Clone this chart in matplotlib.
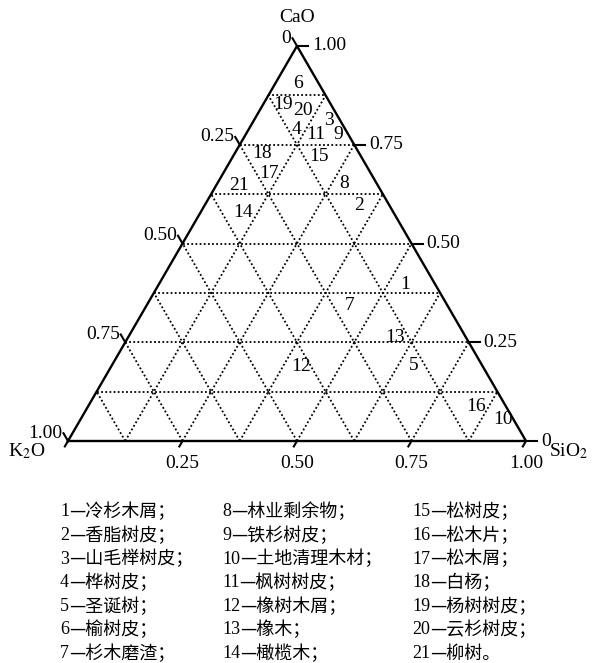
import numpy as np
import matplotlib
matplotlib.use('Agg')
import matplotlib.pyplot as plt
from matplotlib.offsetbox import TextArea, HPacker, AnnotationBbox

plt.rcParams['font.family'] = ['Liberation Serif', 'Noto Sans CJK SC']
plt.rcParams['mathtext.fontset'] = 'stix'

# sample numbers and their oxide fractions (K2O, CaO, SiO2)
labels = ['1', '2', '3', '4', '5', '6', '7', '8', '9', '10', '11',
          '12', '13', '14', '15', '16', '17', '18', '19', '20', '21']
cao = [0.395, 0.595, 0.811, 0.789, 0.190, 0.906, 0.344, 0.652, 0.775, 0.055, 0.775,
       0.188, 0.263, 0.578, 0.720, 0.087, 0.676, 0.727, 0.851, 0.836, 0.646]
sio2 = [0.539, 0.337, 0.165, 0.104, 0.659, 0.050, 0.442, 0.277, 0.202, 0.923, 0.154,
        0.416, 0.583, 0.094, 0.187, 0.847, 0.101, 0.060, 0.045, 0.096, 0.050]
k2o = [1 - c - s for c, s in zip(cao, sio2)]

tick_vals = [0.25, 0.50, 0.75]
grid_vals = np.arange(1, 8) / 8

names = ['冷杉木屑；', '香脂树皮；', '山毛榉树皮；', '桦树皮；', '圣诞树；', '榆树皮；', '杉木磨渣；',
         '林业剩余物；', '铁杉树皮；', '土地清理木材；', '枫树树皮；', '橡树木屑；', '橡木；', '橄榄木；',
         '松树皮；', '松木片；', '松木屑；', '白杨；', '杨树树皮；', '云杉树皮；', '柳树。']


def tern(c, s):
    # x from SiO2 + CaO/2, y is CaO
    return s + c / 2.0, c


W, H = 592, 663
fig = plt.figure(figsize=(W / 100, H / 100), dpi=100)
ax = fig.add_axes([68 / W, (H - 441) / H, 458 / W, 395 / H])
ax.set_xlim(0, 1)
ax.set_ylim(0, 1)
ax.axis('off')

# dotted grid
dot = (0, (1, 1.3))
for g in grid_vals:
    x1, y1 = tern(g, 0)
    x2, y2 = tern(g, 1 - g)
    ax.plot([x1, x2], [y1, y2], ls=dot, color='black', lw=1.3)
    x1, y1 = tern(0, g)
    x2, y2 = tern(1 - g, g)
    ax.plot([x1, x2], [y1, y2], ls=dot, color='black', lw=1.3)
    x1, y1 = tern(0, 1 - g)
    x2, y2 = tern(1 - g, 0)
    ax.plot([x1, x2], [y1, y2], ls=dot, color='black', lw=1.3)

ax.plot([0, 1, 0.5, 0], [0, 0, 1, 0], color='black', lw=1.7, clip_on=False)

# ticks: pixel lengths converted to data units
px, py = 1 / 458, 1 / 395
tl = 9
lx, ly = -0.5 * 458, 395
n = np.hypot(lx, ly)
ldx, ldy = lx / n * tl * px, ly / n * tl * py
fs = 14

# K2O on left edge, CaO on right edge, SiO2 on bottom
for v, lab in zip([0.0] + tick_vals + [1.0], ['0', '0.25', '0.50', '0.75', '1.00']):
    x0, y0 = tern(1 - v, 0)
    ax.plot([x0, x0 + ldx], [y0, y0 + ldy], color='black', lw=1.5, clip_on=False)
    ax.text(x0 + ldx - 1 * px, y0 + ldy, lab, ha='right', va='center', fontsize=fs)

for v, lab in zip([0.0] + tick_vals + [1.0], ['0', '0.25', '0.50', '0.75', '1.00']):
    x0, y0 = tern(v, 1 - v)
    ax.plot([x0, x0 + 11 * px], [y0, y0], color='black', lw=1.5, clip_on=False)
    ax.text(x0 + 15 * px, y0, lab, ha='left', va='center', fontsize=fs)

for v, lab in zip([0.0] + tick_vals + [1.0], ['', '0.25', '0.50', '0.75', '1.00']):
    x0, y0 = tern(0, v)
    ax.plot([x0, x0 + ldx * 0.7], [y0, y0 - ldy * 0.7], color='black', lw=1.5, clip_on=False)
    ax.text(x0, y0 - 14 * py, lab, ha='center', va='top', fontsize=fs)

ax.text(0.5, 1 + 28 * py, 'CaO', ha='center', va='center', fontsize=fs)
ax.text(-41 * px, -10 * py, 'K$_2$O', ha='center', va='center', fontsize=fs)
ax.text(1 + 43 * px, -10 * py, 'SiO$_2$', ha='center', va='center', fontsize=fs)

# sample numbers
for lab, c, s in zip(labels, cao, sio2):
    x, y = tern(c, s)
    ax.text(x, y, lab, ha='center', va='center', fontsize=fs)

# legend below the triangle
col_x = [60, 222, 412]
for i, nm in enumerate(names):
    col, row = divmod(i, 7)
    num = TextArea(str(i + 1), textprops=dict(fontsize=13, family='Liberation Serif'))
    txt = TextArea('—' + nm, textprops=dict(fontsize=13, family='Noto Sans CJK SC'))
    box = HPacker(children=[num, txt], pad=0, sep=0, align='center')
    ab = AnnotationBbox(box, (col_x[col] / W, 1 - (512 + row * 23.6) / H),
                        xycoords='figure fraction', box_alignment=(0, 0.5),
                        frameon=False, pad=0)
    fig.add_artist(ab)

fig.savefig('out.png', dpi=100, facecolor='white')
